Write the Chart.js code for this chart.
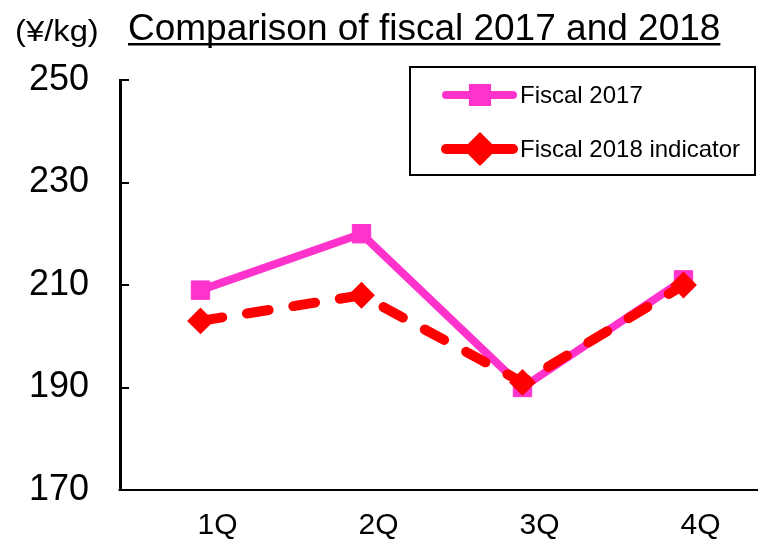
<!DOCTYPE html>
<html>
<head>
<meta charset="utf-8">
<script src="https://cdn.jsdelivr.net/npm/chart.js@4"></script>
<style>
  html, body { margin: 0; padding: 0; background: #fff; overflow: hidden; }
  #wrap { width: 758px; height: 541px; position: relative; }
  canvas { display: block; }
</style>
</head>
<body>
<div id="wrap"><canvas id="c" width="758" height="541"></canvas></div>
<script>
// Quarterly price per kg, fiscal 2017 vs fiscal 2018 indicator
const quarters = ['1Q', '2Q', '3Q', '4Q'];
const fiscal2017 = [209, 220, 190, 211];
const fiscal2018 = [203, 208, 191, 210];
const yTicks = [170, 190, 210, 230, 250];

const titleText = 'Comparison of fiscal 2017 and 2018';
const unitText = '(\u00a5/kg)';
const FONT = '"Liberation Sans", Arial, sans-serif';
const PINK = '#FF33CC';
const RED = '#FF0000';

// The plot area runs slightly past the right edge of the canvas
const PLOT_RIGHT = 764;
const wideAreaPlugin = {
  id: 'wideArea',
  afterLayout(chart) {
    const xs = chart.scales.x;
    xs.right = PLOT_RIGHT;
    xs.width = PLOT_RIGHT - xs.left;
    xs.configure();
    chart.chartArea.right = PLOT_RIGHT;
    chart.chartArea.width = PLOT_RIGHT - chart.chartArea.left;
  }
};

// Category axis baseline and short inward ticks on the value axis
const axisLinesPlugin = {
  id: 'axisLines',
  afterDraw(chart) {
    const ctx = chart.ctx;
    const y = chart.scales.y;
    const area = chart.chartArea;
    ctx.save();
    ctx.strokeStyle = '#000';
    ctx.lineWidth = 2;
    const by = Math.round(y.getPixelForValue(yTicks[0]));
    ctx.beginPath();
    ctx.moveTo(area.left - 1.5, by);
    ctx.lineTo(chart.width, by);
    ctx.stroke();
    y.ticks.forEach(t => {
      const py = Math.round(y.getPixelForValue(t.value));
      ctx.beginPath();
      ctx.moveTo(area.left, py);
      ctx.lineTo(area.left + 9, py);
      ctx.stroke();
    });
    ctx.restore();
  }
};

// Title with underline plus unit label
const headerPlugin = {
  id: 'header',
  afterDraw(chart) {
    const ctx = chart.ctx;
    ctx.save();
    ctx.fillStyle = '#000';
    ctx.textBaseline = 'alphabetic';
    ctx.textAlign = 'left';
    ctx.save();
    ctx.translate(15, 41);
    ctx.scale(1.13, 1);
    ctx.font = '29px ' + FONT;
    ctx.fillText(unitText, 0, 0);
    ctx.restore();
    ctx.font = '37px ' + FONT;
    ctx.fillText(titleText, 128, 40);
    const w = ctx.measureText(titleText).width;
    ctx.fillRect(128, 43, w, 2.5);
    ctx.restore();
  }
};

// Boxed legend showing each series' line and marker
const legendBoxPlugin = {
  id: 'legendBox',
  afterDraw(chart) {
    const ctx = chart.ctx;
    ctx.save();
    ctx.fillStyle = '#fff';
    ctx.fillRect(410, 67, 345, 108);
    ctx.strokeStyle = '#000';
    ctx.lineWidth = 2;
    ctx.strokeRect(410, 67, 345, 108);
    const rows = [
      { y: 95, i: 0, r: 10 },
      { y: 149, i: 1, r: 10 }
    ];
    rows.forEach(r => {
      const ds = chart.data.datasets[r.i];
      ctx.strokeStyle = ds.borderColor;
      ctx.lineWidth = ds.borderWidth;
      ctx.lineCap = 'round';
      ctx.beginPath();
      ctx.moveTo(446, r.y);
      ctx.lineTo(513, r.y);
      ctx.stroke();
      ctx.fillStyle = ds.pointBackgroundColor;
      ctx.strokeStyle = ds.pointBorderColor;
      Chart.helpers.drawPoint(ctx, {
        pointStyle: ds.pointStyle,
        radius: r.r,
        borderWidth: ds.pointBorderWidth,
        rotation: 0
      }, 480, r.y);
      ctx.fillStyle = '#000';
      ctx.font = '24px ' + FONT;
      ctx.textBaseline = 'middle';
      ctx.textAlign = 'left';
      ctx.fillText(ds.label, 520, r.y + 1);
    });
    ctx.restore();
  }
};

new Chart(document.getElementById('c'), {
  type: 'line',
  data: {
    labels: quarters,
    datasets: [
      {
        label: 'Fiscal 2017',
        data: fiscal2017,
        borderColor: PINK,
        backgroundColor: PINK,
        borderWidth: 8,
        pointStyle: 'rect',
        pointRadius: 13,
        pointBorderWidth: 1,
        pointBackgroundColor: PINK,
        pointBorderColor: PINK,
        tension: 0,
        order: 2
      },
      {
        label: 'Fiscal 2018 indicator',
        data: fiscal2018,
        borderColor: RED,
        backgroundColor: RED,
        borderWidth: 10,
        borderDash: [22, 25],
        borderCapStyle: 'round',
        pointStyle: 'rectRot',
        pointRadius: 12,
        pointBorderWidth: 2,
        pointBackgroundColor: RED,
        pointBorderColor: RED,
        tension: 0,
        order: 1
      }
    ]
  },
  options: {
    responsive: false,
    animation: false,
    events: [],
    layout: { padding: { top: 80, right: 0, bottom: 0, left: 0 } },
    plugins: {
      legend: { display: false },
      title: { display: false },
      tooltip: { enabled: false }
    },
    scales: {
      x: {
        type: 'category',
        offset: true,
        grid: { display: false },
        border: { display: false },
        ticks: {
          color: '#000',
          font: { family: FONT, size: 30 },
          padding: 10,
          labelOffset: 17,
          maxRotation: 0
        },
        afterFit(scale) {
          scale.height = 51;
          scale.paddingLeft = 0;
          scale.paddingRight = 0;
        }
      },
      y: {
        min: 170,
        max: 250,
        afterBuildTicks(scale) {
          scale.ticks = yTicks.map(v => ({ value: v }));
        },
        grid: {
          drawOnChartArea: false,
          drawTicks: false
        },
        border: { display: true, color: '#000', width: 3 },
        ticks: {
          color: '#000',
          font: { family: FONT, size: 36 },
          padding: 31
        },
        afterFit(scale) {
          scale.width = 120;
          scale.paddingTop = 0;
          scale.paddingBottom = 0;
        }
      }
    }
  },
  plugins: [wideAreaPlugin, axisLinesPlugin, headerPlugin, legendBoxPlugin]
});
</script>
</body>
</html>
